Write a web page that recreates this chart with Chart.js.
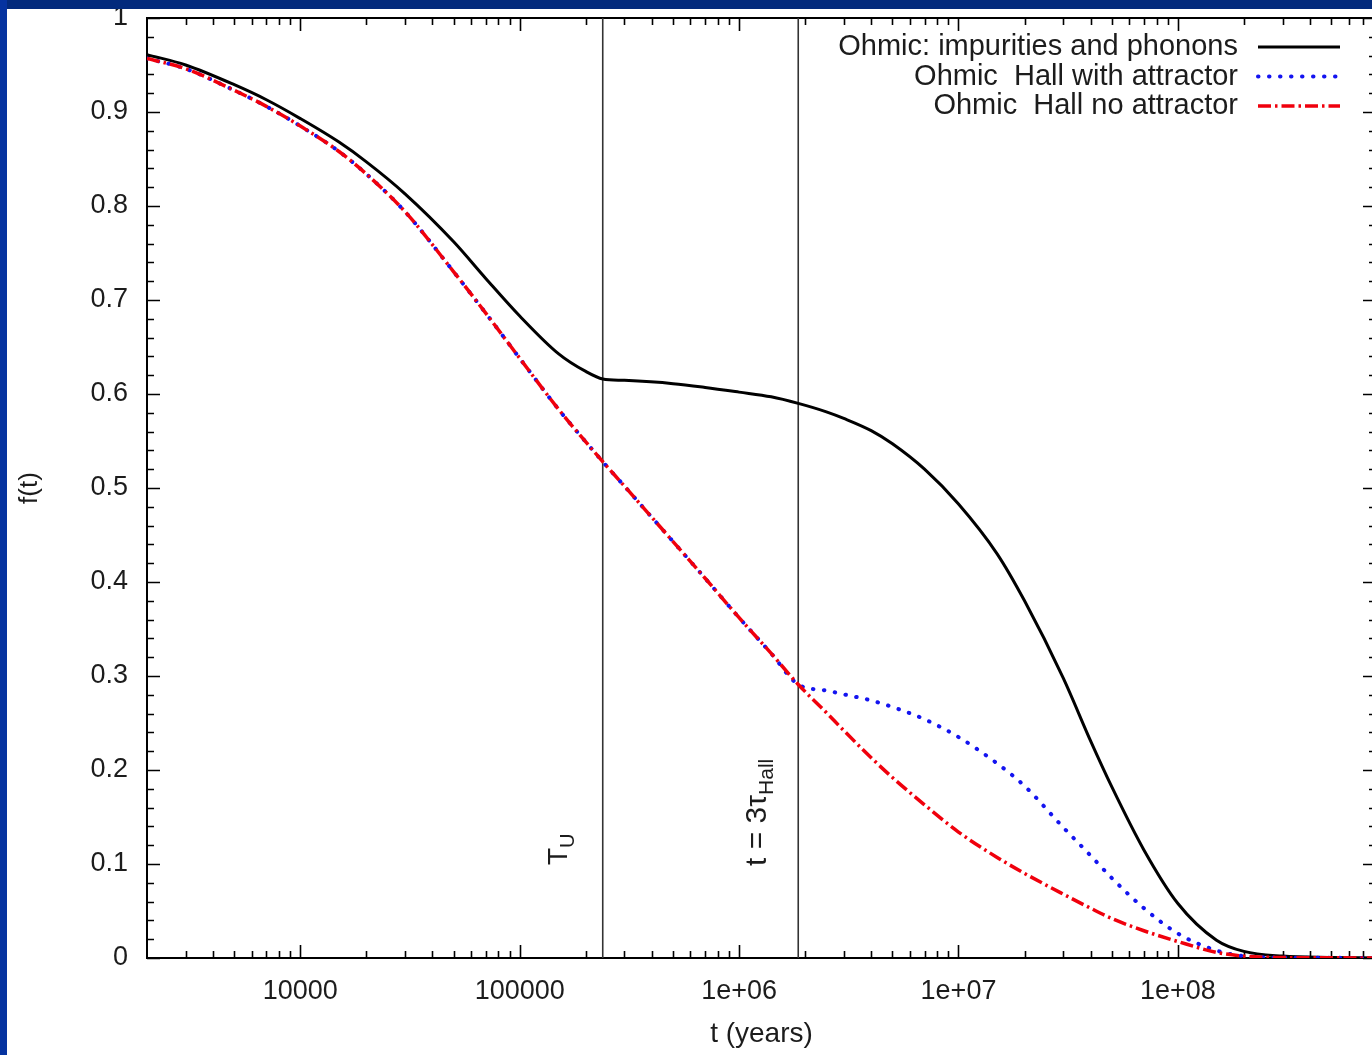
<!DOCTYPE html>
<html>
<head>
<meta charset="utf-8">
<script src="https://cdn.jsdelivr.net/npm/chart.js@4.4.1/dist/chart.umd.min.js"></script>
<style>
  html, body { margin: 0; padding: 0; background: #fff; overflow: hidden; }
  #wrap { position: relative; width: 1380px; height: 1055px; }
  #stripTop { position: absolute; left: 0; top: 0; width: 1380px; height: 9px; background: #032a7c; }
  #stripLeft { position: absolute; left: 0; top: 0; width: 7px; height: 1055px; background: #0533a0; }
</style>
</head>
<body>
<div id="wrap">
  <canvas id="chart" width="1380" height="1055"></canvas>
  <div id="stripTop"></div>
  <div id="stripLeft"></div>
</div>
<script>
// time grid (years) shared by the three curves
const tYears = [2000, 3000, 5000, 7000, 1e4, 1.5e4, 2e4, 3e4, 5e4, 7e4, 1e5, 1.5e5, 2e5, 2.39e5,
  3e5, 5e5, 7e5, 1e6, 1.4e6, 1.86e6, 2.5e6, 3e6, 4e6, 5e6, 7e6, 1e7, 1.5e7, 2e7, 3e7, 4e7,
  5e7, 7e7, 1e8, 1.5e8, 2e8, 3e8, 5e8, 8e8];

const fImpuritiesPhonons = [0.961, 0.950, 0.929, 0.913, 0.893, 0.868, 0.847, 0.813, 0.762, 0.723,
  0.683, 0.643, 0.624, 0.616, 0.6145, 0.611, 0.607, 0.602, 0.597, 0.590, 0.581, 0.574, 0.561, 0.547,
  0.520, 0.483, 0.430, 0.380, 0.298, 0.231, 0.182, 0.115, 0.058, 0.019, 0.007, 0.002, 0.0005, 0];

const fHallAttractor = [0.957, 0.946, 0.923, 0.906, 0.885, 0.858, 0.834, 0.794, 0.730, 0.686,
  0.638, 0.584, 0.549, 0.528, 0.502, 0.443, 0.404, 0.362, 0.324, 0.291, 0.2845, 0.2805, 0.274, 0.267,
  0.254, 0.235, 0.207, 0.183, 0.139, 0.109, 0.085, 0.053, 0.026, 0.008, 0.002, 0.0005, 0.0002, 0];

const fHallNoAttractor = [0.957, 0.946, 0.923, 0.906, 0.885, 0.858, 0.834, 0.794, 0.730, 0.686,
  0.638, 0.584, 0.549, 0.528, 0.502, 0.443, 0.404, 0.362, 0.324, 0.291, 0.261, 0.242, 0.213, 0.192,
  0.163, 0.134, 0.107, 0.090, 0.068, 0.053, 0.042, 0.029, 0.0175, 0.006, 0.002, 0.0005, 0.0002, 0];

const seriesNames = ['Ohmic: impurities and phonons', 'Ohmic  Hall with attractor', 'Ohmic  Hall no attractor'];

// vertical markers: T_U and t = 3 tau_Hall
const tMarkers = [2.39e5, 1.86e6];

const xTickValues = [1e4, 1e5, 1e6, 1e7, 1e8];
const xTickLabels = ['10000', '100000', '1e+06', '1e+07', '1e+08'];
const yTickLabels = ['0', '0.1', '0.2', '0.3', '0.4', '0.5', '0.6', '0.7', '0.8', '0.9', '1'];

const FONT = "'Liberation Sans', Arial, Helvetica, sans-serif";
const TEXT = '#1c1c1c';

const toPoints = ys => tYears.map((t, i) => ({ x: t, y: ys[i] }));
const markerLine = t => [{ x: t, y: 0 }, { x: t, y: 1 }];

// gnuplot style frame with inward ticks on all four sides
const frameTicks = {
  id: 'frameTicks',
  beforeDatasetsDraw(chart) {
    const { ctx, chartArea: a, scales: { x, y } } = chart;
    ctx.save();
    ctx.strokeStyle = '#000';
    ctx.lineWidth = 1.6;
    ctx.beginPath();
    for (let i = 0; i <= 50; i++) {
      const py = Math.round(y.getPixelForValue(i / 50)) + 0.5;
      const len = i % 5 === 0 ? 13 : 7;
      ctx.moveTo(a.left, py); ctx.lineTo(a.left + len, py);
      ctx.moveTo(a.right, py); ctx.lineTo(a.right - len, py);
    }
    for (let d = 3; d <= 8; d++) {
      for (let m = 1; m <= 9; m++) {
        const v = m * Math.pow(10, d);
        if (v <= x.min || v >= x.max) continue;
        const px = Math.round(x.getPixelForValue(v)) + 0.5;
        const len = m === 1 ? 13 : 7;
        ctx.moveTo(px, a.bottom); ctx.lineTo(px, a.bottom - len);
        ctx.moveTo(px, a.top); ctx.lineTo(px, a.top + len);
      }
    }
    ctx.stroke();
    ctx.lineWidth = 2;
    ctx.strokeRect(a.left, a.top, a.right - a.left, a.bottom - a.top);
    ctx.restore();
  },
  afterDatasetsDraw(chart) {
    const { ctx, scales: { x } } = chart;
    ctx.save();
    ctx.fillStyle = TEXT;
    ctx.textBaseline = 'alphabetic';
    ctx.textAlign = 'left';
    // T_U
    let px = x.getPixelForValue(tMarkers[0]);
    ctx.save();
    ctx.translate(px - 36, 865);
    ctx.rotate(-Math.PI / 2);
    ctx.font = '28px ' + FONT;
    ctx.fillText('T', 0, 0);
    let w = ctx.measureText('T').width;
    ctx.font = '20px ' + FONT;
    ctx.fillText('U', w, 7);
    ctx.restore();
    // t = 3 tau_Hall
    px = x.getPixelForValue(tMarkers[1]);
    ctx.save();
    ctx.translate(px - 32, 866);
    ctx.rotate(-Math.PI / 2);
    ctx.font = '30px ' + FONT;
    ctx.fillText('t = 3\u03C4', 0, 0);
    w = ctx.measureText('t = 3\u03C4').width;
    ctx.font = '21px ' + FONT;
    ctx.fillText('Hall', w, 7);
    ctx.restore();
    ctx.restore();
  }
};

// key in the top right corner, text right aligned, sample line after it
const keyBox = {
  id: 'keyBox',
  afterDraw(chart) {
    const { ctx } = chart;
    ctx.save();
    ctx.font = '29px ' + FONT;
    ctx.textAlign = 'right';
    ctx.textBaseline = 'middle';
    chart.data.datasets.slice(0, 3).forEach((ds, i) => {
      const yy = 47 + i * 29.5;
      ctx.fillStyle = TEXT;
      ctx.fillText(ds.label, 1238, yy);
      ctx.strokeStyle = ds.borderColor;
      ctx.lineWidth = ds.borderWidth;
      ctx.lineCap = ds.borderCapStyle || 'butt';
      ctx.setLineDash(ds.borderDash || []);
      ctx.beginPath();
      ctx.moveTo(1258, yy);
      ctx.lineTo(1340, yy);
      ctx.stroke();
    });
    ctx.restore();
  }
};

new Chart(document.getElementById('chart'), {
  type: 'line',
  data: {
    datasets: [
      {
        label: seriesNames[0],
        data: toPoints(fImpuritiesPhonons),
        borderColor: '#000',
        borderWidth: 3,
        cubicInterpolationMode: 'monotone',
        order: 3
      },
      {
        label: seriesNames[1],
        data: toPoints(fHallAttractor),
        borderColor: '#1414f0',
        borderWidth: 4,
        borderDash: [0.5, 10.5],
        borderCapStyle: 'round',
        cubicInterpolationMode: 'monotone',
        order: 2
      },
      {
        label: seriesNames[2],
        data: toPoints(fHallNoAttractor),
        borderColor: '#f0000c',
        borderWidth: 3.5,
        borderDash: [13, 4, 2.5, 4],
        cubicInterpolationMode: 'monotone',
        order: 1
      },
      {
        label: 'T_U',
        data: markerLine(tMarkers[0]),
        borderColor: '#333',
        borderWidth: 1.6,
        order: 5
      },
      {
        label: '3 tau_Hall',
        data: markerLine(tMarkers[1]),
        borderColor: '#333',
        borderWidth: 1.6,
        order: 5
      }
    ]
  },
  options: {
    responsive: false,
    animation: false,
    devicePixelRatio: 1,
    elements: { point: { radius: 0 } },
    layout: { padding: { left: 0, top: 18, right: 4, bottom: 0 } },
    plugins: { legend: { display: false }, tooltip: { enabled: false } },
    scales: {
      x: {
        type: 'logarithmic',
        min: 2000,
        max: 8e8,
        grid: { display: false, drawTicks: false },
        border: { display: false },
        afterBuildTicks: s => { s.ticks = xTickValues.map(v => ({ value: v })); },
        afterFit: s => { s.height = 97; s.paddingLeft = 0; s.paddingRight = 0; },
        ticks: {
          autoSkip: false,
          maxRotation: 0,
          padding: 17,
          color: TEXT,
          font: { family: FONT, size: 27 },
          callback: (v, i) => xTickLabels[i]
        },
        title: {
          display: true,
          text: 't (years)',
          color: TEXT,
          font: { family: FONT, size: 28 },
          padding: { top: 0, bottom: 4 }
        }
      },
      y: {
        min: 0,
        max: 1,
        grid: { display: false, drawTicks: false },
        border: { display: false },
        afterFit: s => { s.width = 147; s.paddingTop = 0; s.paddingBottom = 0; },
        ticks: {
          stepSize: 0.1,
          padding: 19,
          color: TEXT,
          font: { family: FONT, size: 27 },
          callback: (v, i) => yTickLabels[i]
        },
        title: {
          display: true,
          text: 'f(t)',
          color: TEXT,
          font: { family: FONT, size: 26 },
          padding: { top: 14, bottom: 0 }
        }
      }
    }
  },
  plugins: [frameTicks, keyBox]
});
</script>
</body>
</html>
